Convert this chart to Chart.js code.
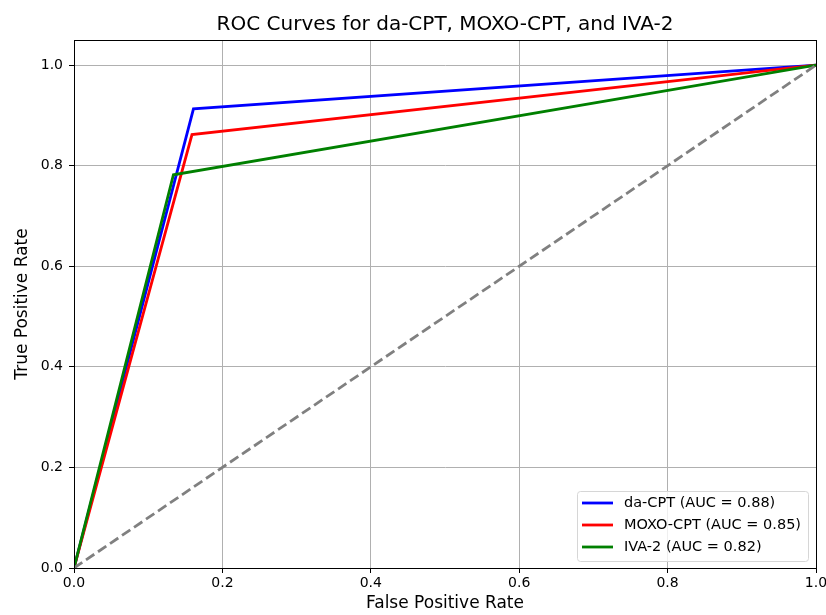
<!DOCTYPE html>
<html>
<head>
<meta charset="utf-8">
<script src="https://cdn.jsdelivr.net/npm/chart.js@4"></script>
<style>
  html, body { margin: 0; padding: 0; background: #fff; }
  #wrap { width: 826px; height: 615px; }
</style>
</head>
<body>
<div id="wrap"><canvas id="roc" width="826" height="615"></canvas></div>
<script>
// ROC の各点（FPR, TPR）
const seriesNames = ['da-CPT (AUC = 0.88)', 'MOXO-CPT (AUC = 0.85)', 'IVA-2 (AUC = 0.82)'];
const seriesColors = ['#0000ff', '#ff0000', '#008000'];
const daFpr = [0, 0.161, 1];
const daTpr = [0, 0.913, 1];
const moxoFpr = [0, 0.159, 1];
const moxoTpr = [0, 0.862, 1];
const ivaFpr = [0, 0.134, 1];
const ivaTpr = [0, 0.782, 1];
const chanceFpr = [0, 1];
const chanceTpr = [0, 1];
const xTicks = [0, 0.2, 0.4, 0.6, 0.8, 1.0];
const yTicks = [0, 0.2, 0.4, 0.6, 0.8, 1.0];

const FONT = "'DejaVu Sans', sans-serif";

function pts(xs, ys) {
    return xs.map((x, i) => ({ x: x, y: ys[i] }));
}

// 上・右の枠線（matplotlib の spines）
const framePlugin = {
    id: 'frame',
    afterDatasetsDraw(chart) {
        const a = chart.chartArea;
        const ctx = chart.ctx;
        ctx.save();
        ctx.strokeStyle = '#000';
        ctx.lineWidth = 1;
        ctx.strokeRect(Math.round(a.left) + 0.5, Math.round(a.top) + 0.5,
            Math.round(a.right - a.left), Math.round(a.bottom - a.top));
        ctx.restore();
    }
};

// 右下の凡例ボックス
const legendBoxPlugin = {
    id: 'legendBox',
    afterDraw(chart) {
        const ctx = chart.ctx;
        const a = chart.chartArea;
        const items = chart.data.datasets.filter(d => d.showInLegend);
        const w = 231, rowH = 22, h = 70;
        const x0 = a.right - 8 - w, y0 = a.bottom - 7 - h;
        ctx.save();
        ctx.beginPath();
        ctx.roundRect(x0 + 0.5, y0 + 0.5, w, h, 3);
        ctx.fillStyle = 'rgba(255,255,255,0.8)';
        ctx.fill();
        ctx.strokeStyle = '#d6d6d6';
        ctx.lineWidth = 1;
        ctx.stroke();
        ctx.font = '14.5px ' + FONT;
        ctx.textBaseline = 'middle';
        items.forEach((d, i) => {
            const cy = y0 + 12 + i * rowH;
            ctx.strokeStyle = d.borderColor;
            ctx.lineWidth = 2.8;
            ctx.beginPath();
            ctx.moveTo(x0 + 5, cy);
            ctx.lineTo(x0 + 36, cy);
            ctx.stroke();
            ctx.fillStyle = '#000';
            ctx.fillText(d.label, x0 + 47, cy);
        });
        ctx.restore();
    }
};

function makeLine(label, xs, ys, color, order) {
    return {
        label: label,
        data: pts(xs, ys),
        borderColor: color,
        backgroundColor: color,
        borderWidth: 2.8,
        pointRadius: 0,
        tension: 0,
        order: order,
        showInLegend: true
    };
}

new Chart(document.getElementById('roc'), {
    type: 'line',
    data: {
        datasets: [
            makeLine(seriesNames[0], daFpr, daTpr, seriesColors[0], 4),
            makeLine(seriesNames[1], moxoFpr, moxoTpr, seriesColors[1], 3),
            makeLine(seriesNames[2], ivaFpr, ivaTpr, seriesColors[2], 2),
            {
                label: 'chance',
                data: pts(chanceFpr, chanceTpr),
                borderColor: '#808080',
                borderWidth: 2.8,
                borderDash: [10, 4.5],
                pointRadius: 0,
                order: 1,
                showInLegend: false
            }
        ]
    },
    options: {
        responsive: false,
        animation: false,
        layout: { padding: { left: 0, right: 10, top: 0, bottom: 0 } },
        plugins: {
            legend: { display: false },
            tooltip: { enabled: false },
            title: { display: false }
        },
        scales: {
            // タイトルをプロット領域の中央に置くための上側の軸（目盛りなし）
            top: {
                type: 'linear',
                position: 'top',
                min: 0,
                max: 1,
                afterFit(scale) { scale.height = 40; scale.paddingLeft = 0; scale.paddingRight = 0; },
                ticks: { display: false },
                grid: { display: false },
                border: { display: false },
                title: {
                    display: true,
                    text: 'ROC Curves for da-CPT, MOXO-CPT, and IVA-2',
                    color: '#000',
                    font: { family: FONT, size: 20, lineHeight: 1.2 },
                    padding: { top: 12.7, bottom: 0 }
                }
            },
            x: {
                type: 'linear',
                min: 0,
                max: 1,
                afterBuildTicks(scale) { scale.ticks = xTicks.map(v => ({ value: v })); },
                afterFit(scale) { scale.height = 47; scale.paddingLeft = 0; scale.paddingRight = 0; },
                ticks: {
                    color: '#000',
                    font: { family: FONT, size: 14 },
                    padding: 2,
                    maxRotation: 0,
                    callback: v => v.toFixed(1)
                },
                grid: { color: '#b0b0b0', lineWidth: 1, tickLength: 5, tickColor: '#000' },
                border: { color: '#000', width: 1 },
                title: {
                    display: true,
                    text: 'False Positive Rate',
                    color: '#000',
                    font: { family: FONT, size: 17, lineHeight: 1.2 },
                    padding: { top: 0, bottom: 0.8 }
                }
            },
            y: {
                type: 'linear',
                min: 0,
                max: 1.05,
                afterBuildTicks(scale) { scale.ticks = yTicks.map(v => ({ value: v })); },
                afterFit(scale) { scale.width = 74; scale.paddingTop = 0; scale.paddingBottom = 0; },
                ticks: {
                    color: '#000',
                    font: { family: FONT, size: 14 },
                    padding: 6,
                    callback: v => v.toFixed(1)
                },
                grid: { color: '#b0b0b0', lineWidth: 1, tickLength: 5, tickColor: '#000' },
                border: { color: '#000', width: 1 },
                title: {
                    display: true,
                    text: 'True Positive Rate',
                    color: '#000',
                    font: { family: FONT, size: 17, lineHeight: 1.2 },
                    padding: { top: 12.8, bottom: 0 }
                }
            }
        }
    },
    plugins: [framePlugin, legendBoxPlugin]
});
</script>
</body>
</html>
